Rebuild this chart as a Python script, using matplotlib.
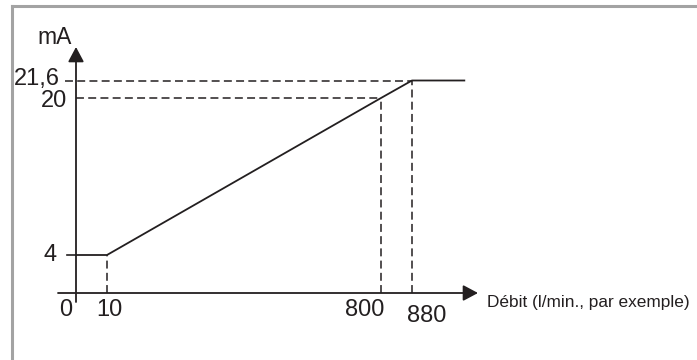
import numpy as np
import matplotlib
matplotlib.use("Agg")
import matplotlib.pyplot as plt
from matplotlib.lines import Line2D

plt.rcParams['font.family'] = ['Liberation Sans', 'DejaVu Sans']

# Courbe de sortie (débit -> courant)
debit = [0, 10, 800, 880, 1015]
courant = [4, 4, 20, 21.6, 21.6]

x_ticks = [0, 10, 800, 880]
x_labels = ["0", "10", "800", "880"]
y_ticks = [4, 20, 21.6]
y_labels = ["4", "20", "21,6"]

x_title = "Débit (l/min., par exemple)"
y_title = "mA"

INK = "#231f20"
W, H = 697, 360


def piecewise(d, p):
    # schematic (non linear) axis: linear between knots, extended at both ends
    d = np.asarray(d, float)
    p = np.asarray(p, float)

    def make(a, b):
        def f(v):
            v = np.asarray(v, float)
            out = np.interp(v, a, b)
            out = np.where(v < a[0], b[0] + (v - a[0]) * (b[1] - b[0]) / (a[1] - a[0]), out)
            out = np.where(v > a[-1], b[-1] + (v - a[-1]) * (b[-1] - b[-2]) / (a[-1] - a[-2]), out)
            return out
        return f
    return make(d, p), make(p, d)


fx, ix = piecewise([0, 10, 800, 880], [76, 107, 381, 412])
fy, iy = piecewise([0, 4, 20, 21.6], [H - 293, H - 255, H - 98, H - 80.5])

fig = plt.figure(figsize=(W / 100, H / 100), dpi=100)
ax = fig.add_axes([0, 0, 1, 1])
ax.set_xscale('function', functions=(fx, ix))
ax.set_yscale('function', functions=(fy, iy))
ax.set_xlim(float(ix(0)), float(ix(W)))
ax.set_ylim(float(iy(0)), float(iy(H)))
ax.axis('off')

# cadre gris (haut et gauche)
fig.add_artist(Line2D([12 / W, 12 / W], [0, 1 - 6 / H], color="#a3a3a3", lw=2.2))
fig.add_artist(Line2D([12 / W, 1], [1 - 6 / H, 1 - 6 / H], color="#a3a3a3", lw=2.2))

arrow = dict(arrowstyle='-|>,head_length=0.6,head_width=0.32', color=INK,
             lw=1.3, shrinkA=0, shrinkB=0, mutation_scale=15)
# axes with arrows
ax.annotate("", xy=(0, float(iy(H - 47))), xytext=(0, float(iy(H - 302))), arrowprops=arrow)
ax.annotate("", xy=(float(ix(478)), 0), xytext=(float(ix(58)), 0), arrowprops=arrow)

# dashed guides
dash = dict(color=INK, lw=1.1, dashes=(5.2, 2.8))
ax.plot([debit[1], debit[1]], [0, courant[1]], **dash)
ax.plot([debit[2], debit[2]], [0, courant[2]], **dash)
ax.plot([debit[3], debit[3]], [0, courant[3]], **dash)
ax.plot([0, debit[2]], [courant[2], courant[2]], **dash)
ax.plot([float(ix(65)), debit[3]], [courant[3], courant[3]], **dash)

# tick at 4 mA
ax.plot([float(ix(67)), 0], [y_ticks[0], y_ticks[0]], color=INK, lw=1.2)

# courbe
ax.plot(debit, courant, color=INK, lw=1.3, solid_joinstyle='miter')

# tick labels (offsets in pixels)
x_off = [(-10, -17), (2, -17), (-16, -17), (15, -23)]
for v, lab, (dx, dy) in zip(x_ticks, x_labels, x_off):
    ax.annotate(lab, xy=(v, 0), xytext=(dx * 0.72, dy * 0.72), textcoords='offset points',
                ha='center', va='center', fontsize=17, color=INK)

y_off = [(-19, 0), (-9, -3), (-16, 1)]
for v, lab, (dx, dy) in zip(y_ticks, y_labels, y_off):
    ax.annotate(lab, xy=(0, v), xytext=(dx * 0.72, dy * 0.72), textcoords='offset points',
                ha='right', va='center', fontsize=17, color=INK)

ax.annotate(y_title, xy=(0, float(iy(H - 47))), xytext=(-21 * 0.72, 9 * 0.72),
            textcoords='offset points', ha='center', va='center', fontsize=16.5, color=INK)
ax.annotate(x_title, xy=(float(ix(478)), 0), xytext=(9 * 0.72, -9 * 0.72),
            textcoords='offset points', ha='left', va='center', fontsize=12.4, color=INK)

fig.savefig("out.png", dpi=100)
